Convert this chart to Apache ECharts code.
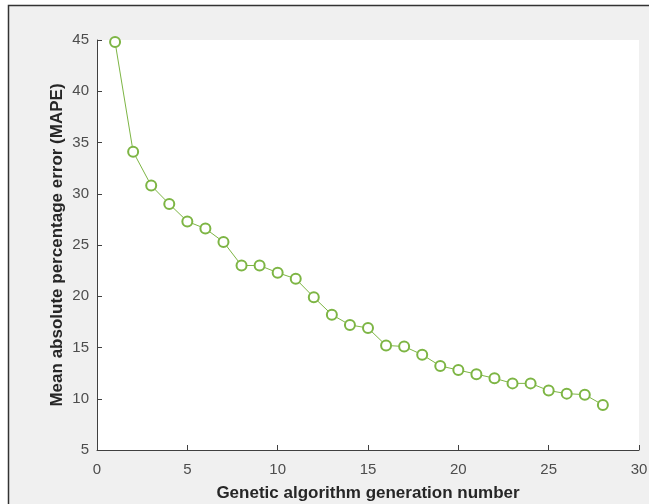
<!DOCTYPE html>
<html>
<head>
<meta charset="utf-8">
<script src="https://cdn.jsdelivr.net/npm/echarts@6/dist/echarts.min.js"></script>
<style>
  html, body { margin: 0; padding: 0; background: #fff; }
  #chart { width: 649px; height: 504px; }
</style>
</head>
<body>
<div id="chart"></div>
<script>
// generation number
const generations = [1, 2, 3, 4, 5, 6, 7, 8, 9, 10, 11, 12, 13, 14, 15, 16, 17, 18, 19, 20, 21, 22, 23, 24, 25, 26, 27, 28]
// MAPE per generation
const mape = [44.8, 34.1, 30.8, 29.0, 27.3, 26.6, 25.3, 23.0, 23.0, 22.3, 21.7, 19.9, 18.2, 17.2, 16.9, 15.2, 15.1, 14.3, 13.2, 12.8, 12.4, 12.0, 11.5, 11.5, 10.8, 10.5, 10.4, 9.4]

const xTitle = 'Genetic algorithm generation number'
const yTitle = 'Mean absolute percentage error (MAPE)'

const green = '#7db544'
const axisColor = '#404040'
const labelColor = '#4d4d4d'
const titleColor = '#262626'
const font = '"Liberation Sans", Arial, sans-serif'

const chart = echarts.init(document.getElementById('chart'))

const option = {
  backgroundColor: '#fff',
  animation: false,
  graphic: [
    // figure frame
    {
      type: 'rect',
      shape: { x: 8.5, y: 5.5, width: 700, height: 600 },
      style: { fill: '#f0f0f0', stroke: '#333', lineWidth: 1.5 },
      z: -10,
      silent: true
    }
  ],
  grid: {
    left: 97,
    right: 10,
    top: 40,
    bottom: 54,
    outerBoundsMode: 'none',
    containLabel: false,
    show: true,
    backgroundColor: '#fff',
    borderWidth: 0,
    z: 0
  },
  xAxis: {
    type: 'value',
    min: 0,
    max: 30,
    interval: 5,
    name: xTitle,
    nameLocation: 'middle',
    nameGap: 35,
    nameMoveOverlap: false,
    nameTextStyle: { fontFamily: font, fontSize: 17, fontWeight: 'bold', color: titleColor },
    axisLine: { show: true, lineStyle: { color: axisColor, width: 1 } },
    axisTick: { show: true, inside: true, length: 5, lineStyle: { color: axisColor } },
    axisLabel: { fontFamily: font, fontSize: 15, color: labelColor, margin: 12, showMaxLabel: true },
    splitLine: { show: false }
  },
  yAxis: {
    type: 'value',
    min: 5,
    max: 45,
    interval: 5,
    name: yTitle,
    nameLocation: 'middle',
    nameGap: 31,
    nameMoveOverlap: false,
    nameTextStyle: { fontFamily: font, fontSize: 17, fontWeight: 'bold', color: titleColor },
    axisLine: { show: true, lineStyle: { color: axisColor, width: 1 } },
    axisTick: { show: true, inside: true, length: 5, lineStyle: { color: axisColor } },
    axisLabel: { fontFamily: font, fontSize: 15, color: labelColor, margin: 8 },
    splitLine: { show: false }
  },
  series: [
    {
      type: 'line',
      data: generations.map((g, i) => [g, mape[i]]),
      symbol: 'emptyCircle',
      symbolSize: 10,
      showAllSymbol: true,
      lineStyle: { color: green, width: 1 },
      itemStyle: { color: green, borderColor: green, borderWidth: 1.3 },
      z: 5
    }
  ]
}

chart.setOption(option)
</script>
</body>
</html>
